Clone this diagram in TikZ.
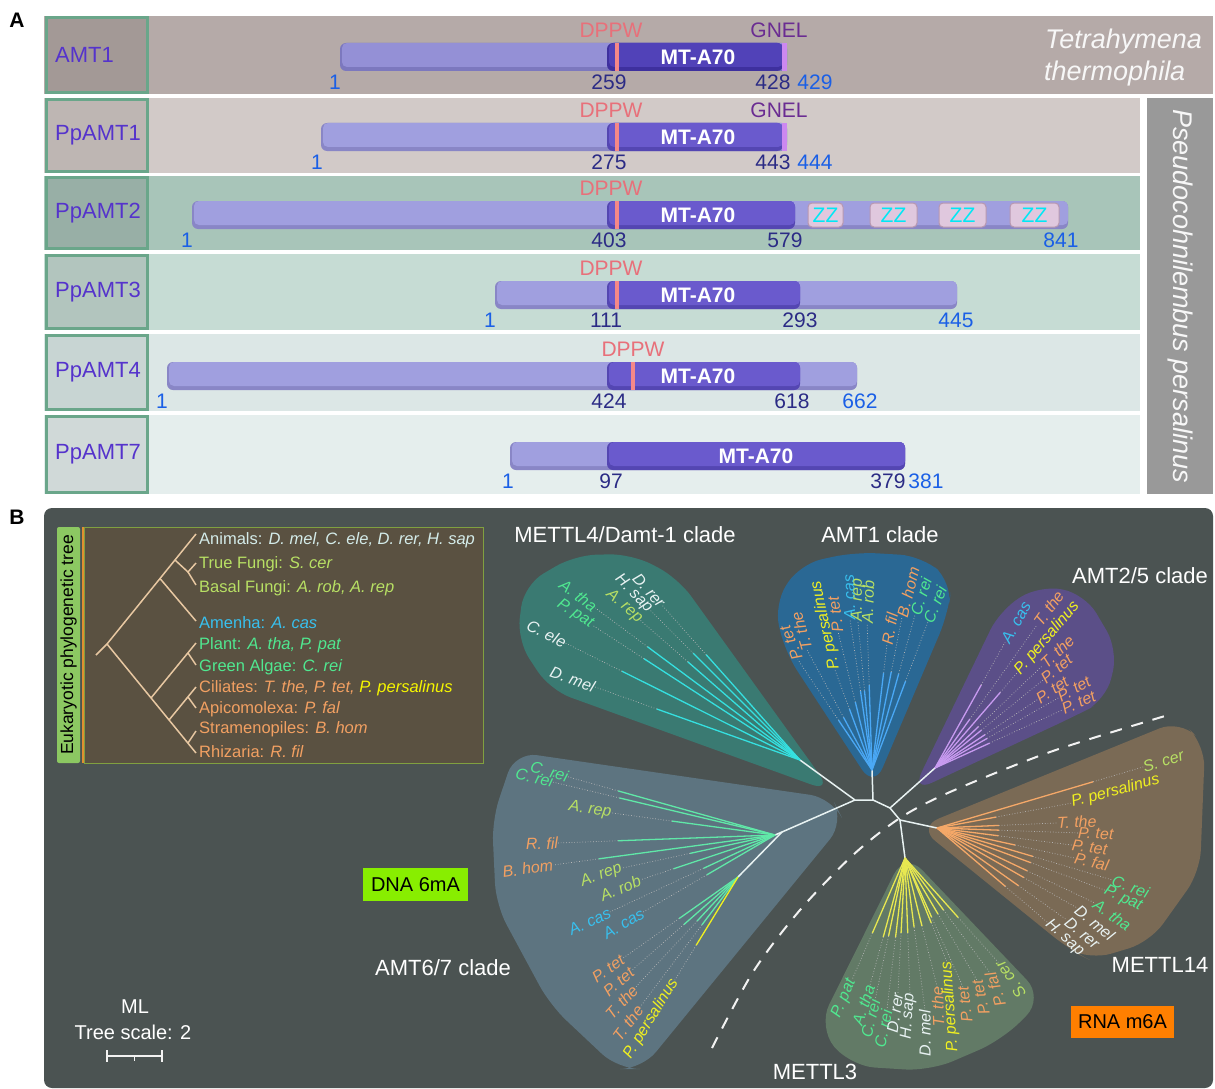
\documentclass[tikz,border=0pt]{standalone}
\usepackage{fontspec}
\setmainfont{Liberation Sans}
\usetikzlibrary{calc}
\definecolor{r1bg}{HTML}{B5AAA8}\definecolor{r1lb}{HTML}{A39996}
\definecolor{r2bg}{HTML}{D2CAC8}\definecolor{r2lb}{HTML}{BEB6B3}
\definecolor{r3bg}{HTML}{A8C5B9}\definecolor{r3lb}{HTML}{98AFA6}
\definecolor{r4bg}{HTML}{C6DCD4}\definecolor{r4lb}{HTML}{B2C5BE}
\definecolor{r5bg}{HTML}{DCE7E6}\definecolor{r5lb}{HTML}{C8D5D3}
\definecolor{r6bg}{HTML}{E5EEED}\definecolor{r6lb}{HTML}{D0D9D8}
\definecolor{lbbord}{HTML}{6AA68A}\definecolor{lblc}{HTML}{5533CC}
\definecolor{numdark}{HTML}{2B2B85}\definecolor{numblue}{HTML}{1A5FE6}
\definecolor{dppwc}{HTML}{E8707A}\definecolor{dppwl}{HTML}{F58888}
\definecolor{gnelc}{HTML}{6A2C92}\definecolor{gnelbar}{HTML}{CC88F0}
\definecolor{barA}{HTML}{9490D6}\definecolor{barAd}{HTML}{7C78BE}
\definecolor{barB}{HTML}{A09FDF}\definecolor{barBd}{HTML}{8986C6}
\definecolor{domA}{HTML}{5142B8}\definecolor{domAd}{HTML}{3E309E}
\definecolor{domB}{HTML}{6A5ACD}\definecolor{domBd}{HTML}{5446B2}
\definecolor{zzfill}{HTML}{E0C8DE}\definecolor{zzbord}{HTML}{B898B0}
\definecolor{zztext}{HTML}{00E8F5}\definecolor{grayband}{HTML}{999999}
\definecolor{bbg}{HTML}{4B5352}\definecolor{insetbg}{HTML}{5A5141}
\definecolor{insetbd}{HTML}{80A040}\definecolor{tabg}{HTML}{8CC862}
\definecolor{tabline}{HTML}{E09030}\definecolor{itree}{HTML}{E8C8A2}
\definecolor{txanim}{HTML}{D4ECEA}\definecolor{txfung}{HTML}{B8E064}
\definecolor{txamoe}{HTML}{38C0EE}\definecolor{txplant}{HTML}{50E890}
\definecolor{txcil}{HTML}{F2A062}\definecolor{txyel}{HTML}{F5F500}
\definecolor{cm4}{HTML}{3A7A72}\definecolor{ca1}{HTML}{2A6894}
\definecolor{ca2}{HTML}{5B4F88}\definecolor{cm14}{HTML}{7A6A55}
\definecolor{cm3}{HTML}{627A66}\definecolor{ca6}{HTML}{5D7480}
\definecolor{lm4}{HTML}{35E0E0}\definecolor{la1}{HTML}{4AA8F5}
\definecolor{la2}{HTML}{C89AF0}\definecolor{lm14}{HTML}{F5A868}
\definecolor{lm3}{HTML}{E8E850}\definecolor{la6}{HTML}{60E8A8}
\definecolor{lwhite}{HTML}{E8F2F2}\definecolor{dna}{HTML}{88EE00}
\definecolor{rna}{HTML}{FF7F00}\definecolor{ylw}{HTML}{F0F020}
\newcommand\fs[1]{\fontsize{#1}{#1}\selectfont}
\tikzset{
 rowlbl/.style={font=\fs{22}, text=lblc, inner sep=0, anchor=west},
 numd/.style={font=\fs{21}, text=numdark, inner sep=0},
 numb/.style={font=\fs{21}, text=numblue, inner sep=0},
 dppw/.style={font=\fs{21}, text=dppwc, inner sep=0},
 gnel/.style={font=\fs{21}, text=gnelc, inner sep=0},
 mta/.style={font=\bfseries\fs{21}, text=white, inner sep=0},
 zz/.style={font=\fs{21}, text=zztext, fill=zzfill, draw=zzbord, line width=1pt, rounded corners=4pt, minimum height=24, inner sep=0},
 itx/.style={font=\fs{16.5}, inner sep=0, anchor=west},
 clade/.style={font=\fs{22}, text=white, inner sep=0},
 leaflbl/.style={font=\itshape\fs{16}, inner sep=0},
 branch/.style={line width=1.3pt},
 leafdot/.style={dotted, line width=0.7pt, color=gray!55},
 mainbr/.style={line width=1.5pt, color=lwhite},
 itreeln/.style={line width=1.5pt, color=itree},
}
\newcommand\protrow[7]{%
 \fill[#4] (44,#1) rectangle (#3,#2);
 \draw[lbbord, line width=2.5pt, fill=#5] (46.5,#1+1.5) rectangle (147.5,#2-1.5);
 \node[rowlbl] (#6) at (55,{(#1+#2)/2}) {#7};}
\newcommand\protbar[4]{%
 \fill[#4d, rounded corners=6pt] (#1,#3-14) rectangle (#2,#3+14);
 \fill[#4, rounded corners=5pt] (#1+2,#3-14) rectangle (#2,#3+10);}
% [text angle] {ray angle}{solid r}{label r}{line colour}{text colour}{e/w}{text}
\newcommand\cladeleaf[8][]{%
 \draw[branch,#5] (0,0) -- ({-(#2)}:#3);
 \draw[leafdot] ({-(#2)}:#3) -- ({-(#2)}:#4);
 \def\tmparg{#1}%
 \ifx\tmparg\empty\pgfmathsetmacro\lrot{#2}\else\pgfmathsetmacro\lrot{#1}\fi
 \if e#7%
  \pgfmathsetmacro\lrot{\lrot+180}%
  \node[leaflbl,text=#6,rotate=\lrot,anchor=east] at ({-(#2)}:#4) {#8};%
 \else
  \node[leaflbl,text=#6,rotate=\lrot,anchor=west] at ({-(#2)}:#4) {#8};%
 \fi}
\begin{document}
\begin{tikzpicture}[x=1pt,y=-1pt]
\useasboundingbox (0,0) rectangle (1215,1089);
\fill[white] (0,0) rectangle (1215,1089);
% ================= Panel A
\node[font=\bfseries\fs{21}, inner sep=0] (labA) at (17,20) {A};
\protrow{16}{94}{1213}{r1bg}{r1lb}{amt1}{AMT1}
\protrow{98}{173}{1140}{r2bg}{r2lb}{ppamt1}{PpAMT1}
\protrow{176}{250}{1140}{r3bg}{r3lb}{ppamt2}{PpAMT2}
\protrow{254}{330}{1140}{r4bg}{r4lb}{ppamt3}{PpAMT3}
\protrow{334}{411}{1140}{r5bg}{r5lb}{ppamt4}{PpAMT4}
\protrow{415}{494}{1140}{r6bg}{r6lb}{ppamt7}{PpAMT7}
\fill[grayband] (1147,98) rectangle (1213,494);
\node[font=\itshape\fs{27}, text=white!94!gray, rotate=-90, inner sep=0] (pper) at (1180,296) {Pseudocohnilembus persalinus};
\node[font=\itshape\fs{27}, text=white!94!gray, inner sep=0, anchor=west] (tth1) at (1045,42) {Tetrahymena};
\node[font=\itshape\fs{27}, text=white!94!gray, inner sep=0, anchor=west] (tth2) at (1044,74) {thermophila};
% row 1
\protbar{340}{787}{57}{barA}
\protbar{607}{783}{57}{domA}
\fill[gnelbar] (782,43) rectangle (787,71);
\fill[dppwl] (615,43) rectangle (619,71);
\node[mta] (d1) at (698,57) {MT-A70};
\node[dppw] (p1) at (611,30) {DPPW};
\node[gnel] (g1) at (779,30) {GNEL};
\node[numb] (a1s) at (335,82) {1};
\node[numd] (a1a) at (609,82) {259};
\node[numd] (a1b) at (773,82) {428};
\node[numb] (a1e) at (815,82) {429};
% row 2
\protbar{321}{787}{137}{barB}
\protbar{607}{783}{137}{domB}
\fill[gnelbar] (782,123) rectangle (787,151);
\fill[dppwl] (615,123) rectangle (619,151);
\node[mta] (d2) at (698,137) {MT-A70};
\node[dppw] (p2) at (611,110) {DPPW};
\node[gnel] (g2) at (779,110) {GNEL};
\node[numb] (b1s) at (317,162) {1};
\node[numd] (b1a) at (609,162) {275};
\node[numd] (b1b) at (773,162) {443};
\node[numb] (b1e) at (815,162) {444};
% row 3
\protbar{192}{1068}{215}{barB}
\protbar{607}{795}{215}{domB}
\fill[dppwl] (615,201) rectangle (619,229);
\node[mta] (d3) at (698,215) {MT-A70};
\node[dppw] (p3) at (611,188) {DPPW};
\node[zz, minimum width=35] (z1) at (825.5,215) {ZZ};
\node[zz, minimum width=47] (z2) at (893.5,215) {ZZ};
\node[zz, minimum width=47] (z3) at (962.5,215) {ZZ};
\node[zz, minimum width=49] (z4) at (1034.5,215) {ZZ};
\node[numb] (b2s) at (187,240) {1};
\node[numd] (b2a) at (609,240) {403};
\node[numd] (b2b) at (785,240) {579};
\node[numb] (b2e) at (1061,240) {841};
% row 4
\protbar{495}{957}{295}{barB}
\protbar{607}{800}{295}{domB}
\fill[dppwl] (615,281) rectangle (619,309);
\node[mta] (d4) at (698,295) {MT-A70};
\node[dppw] (p4) at (611,268) {DPPW};
\node[numb] (b3s) at (490,320) {1};
\node[numd] (b3a) at (606,320) {111};
\node[numd] (b3b) at (800,320) {293};
\node[numb] (b3e) at (956,320) {445};
% row 5
\protbar{167}{857}{376}{barB}
\protbar{607}{800}{376}{domB}
\fill[dppwl] (631,362) rectangle (635,390);
\node[mta] (d5) at (698,376) {MT-A70};
\node[dppw] (p5) at (633,349) {DPPW};
\node[numb] (b4s) at (162,401) {1};
\node[numd] (b4a) at (609,401) {424};
\node[numd] (b4b) at (792,401) {618};
\node[numb] (b4e) at (860,401) {662};
% row 6
\protbar{510}{905}{456}{barB}
\protbar{607}{905}{456}{domB}
\node[mta] (d6) at (756,456) {MT-A70};
\node[numb] (b5s) at (508,481) {1};
\node[numd] (b5a) at (611,481) {97};
\node[numd] (b5b) at (888,481) {379};
\node[numb] (b5e) at (926,481) {381};
% ================= Panel B
\node[font=\bfseries\fs{21}, inner sep=0] (labB) at (17,517) {B};
\fill[bbg, rounded corners=8pt] (44,508) rectangle (1213,1088);
% inset
\fill[insetbg] (84,527) rectangle (483,763);
\draw[insetbd, line width=1pt] (84,527) rectangle (483,763);
\fill[tabg, rounded corners=2pt] (57,527) rectangle (80,763);
\node[font=\fs{17.5}, rotate=90, inner sep=0] (tabtxt) at (68.5,645) {Eukaryotic phylogenetic tree};
\draw[tabline, line width=2pt] (83,527) -- (83,763);
\coordinate (ir0) at (96,655); \coordinate (ir) at (107,644);
\coordinate (iAn) at (196,534); \coordinate (iN2) at (160,578.5);
\coordinate (iN3) at (175,560); \coordinate (iF) at (188,572);
\coordinate (iTF) at (196,563); \coordinate (iBF) at (196,585);
\coordinate (iAm) at (196,621);
\coordinate (iRh) at (196,753); \coordinate (iB1) at (151,698);
\coordinate (iPl) at (196,643); \coordinate (iP2) at (188,653); \coordinate (iGA) at (196,665);
\coordinate (iB2) at (169,720); \coordinate (iCi) at (196,687); \coordinate (iC2) at (188,697);
\coordinate (iAp) at (196,708); \coordinate (iB3) at (188,743); \coordinate (iSt) at (196,731);
\draw[itreeln] (ir0) -- (ir) -- (iAn);
\draw[itreeln] (iN2) -- (iAm);
\draw[itreeln] (iN3) -- (iF) -- (iTF);
\draw[itreeln] (iF) -- (iBF);
\draw[itreeln] (ir) -- (iRh);
\draw[itreeln] (iB1) -- (iPl);
\draw[itreeln] (iP2) -- (iGA);
\draw[itreeln] (iB2) -- (iCi);
\draw[itreeln] (iC2) -- (iAp);
\draw[itreeln] (iB3) -- (iSt);
\node[itx, text=txanim] (tAn) at (199,540) {Animals: \textit{D. mel, C. ele, D. rer, H. sap}};
\node[itx, text=txfung] (tTF) at (199,564) {True Fungi: \textit{S. cer}};
\node[itx, text=txfung] (tBF) at (199,588) {Basal Fungi: \textit{A. rob, A. rep}};
\node[itx, text=txamoe] (tAm) at (199,623) {Amenha: \textit{A. cas}};
\node[itx, text=txplant] (tPl) at (199,645) {Plant: \textit{A. tha, P. pat}};
\node[itx, text=txplant] (tGA) at (199,667) {Green Algae: \textit{C. rei}};
\node[itx, text=txcil] (tCi) at (199,688) {Ciliates: \textit{T. the, P. tet, }\textcolor{txyel}{\textit{P. persalinus}}};
\node[itx, text=txcil] (tAp) at (199,709) {Apicomolexa: \textit{P. fal}};
\node[itx, text=txcil] (tSt) at (199,729) {Stramenopiles: \textit{B. hom}};
\node[itx, text=txcil] (tRh) at (199,752) {Rhizaria: \textit{R. fil}};
% clade backgrounds
\fill[cm4, rounded corners=22pt] (832,792) -- (550,690) -- (517,640) -- (524,585) -- (575,555) -- (632,554) -- (678,578) -- cycle;
\fill[ca1, rounded corners=22pt] (874,788) -- (785,652) -- (774,604) -- (800,564) -- (855,552) -- (922,556) -- (952,582) -- (948,614) -- cycle;
\fill[ca2, rounded corners=22pt] (912,792) -- (1000,610) -- (1040,585) -- (1085,594) -- (1118,650) -- (1106,700) -- (1075,716) -- cycle;
\fill[cm14, rounded corners=22pt] (918,827) -- (1180,720) -- (1205,745) -- (1200,872) -- (1150,942) -- (1090,960) -- (1070,950) -- cycle;
\fill[cm3, rounded corners=25pt] (905,852) -- (818,1027) -- (850,1066) -- (930,1071) -- (1002,1040) -- (1044,998) -- cycle;
\fill[ca6, rounded corners=22pt] (515,752) -- (832,798) -- (844,822) -- (642,1069) -- (618,1069) -- (550,1005) -- (496,905) -- (492,820) -- cycle;
% dashed separator
\draw[white!90!gray, line width=2pt, dash pattern=on 12pt off 10pt] plot[smooth] coordinates {(712,1048) (753,972) (800,910) (853,855) (900,818) (950,792) (1050,752) (1165,716)};
% main tree backbone
\coordinate (rM4) at (800,760); \coordinate (rA1) at (872,770);
\coordinate (rA2) at (935,768); \coordinate (rM14) at (937,828);
\coordinate (rM3) at (905,858); \coordinate (rU) at (775,835);
\coordinate (rL) at (738,877);
\coordinate (n1) at (855,800); \coordinate (n2) at (873,800);
\coordinate (n3) at (890,808); \coordinate (n4) at (900,820);
\coordinate (n5) at (782,832);
\draw[mainbr] (rM4) -- (n1) -- (n2) -- (rA1);
\draw[mainbr] (n2) -- (n3) -- (rA2);
\draw[mainbr] (n3) -- (n4) -- (rM14);
\draw[mainbr] (n4) -- (rM3);
\draw[mainbr] (n1) -- (n5) -- (rU);
\draw[mainbr] (n5) -- (rL);
% METTL4/Damt-1 clade
\begin{scope}[shift={(rM4)}]
\cladeleaf{160.4}{152}{218}{lm4}{lwhite}{e}{D. mel}
\cladeleaf{153.5}{199}{262}{lm4}{lwhite}{e}{C. ele}
\cladeleaf{147}{186}{248}{lm4}{txplant}{e}{P. pat}
\cladeleaf{143.4}{190}{255}{lm4}{txplant}{e}{A. tha}
\cladeleaf{138.8}{149}{212}{lm4}{txfung}{e}{A. rep}
\cladeleaf{135}{151}{212}{lm4}{lwhite}{e}{H. sap}
\cladeleaf{131.7}{141}{207}{lm4}{lwhite}{e}{D. rer}
\end{scope}
% AMT1 clade
\begin{scope}[shift={(rA1)}]
\cladeleaf[112]{123.9}{60}{133}{la1}{txcil}{w}{P. tet}
\cladeleaf[107]{118.4}{60}{136}{la1}{txcil}{w}{T. the}
\cladeleaf[102]{110.3}{65}{107}{la1}{ylw}{w}{P. persalinus}
\cladeleaf[98]{103.8}{70}{142}{la1}{txcil}{w}{P. tet}
\cladeleaf[92]{98.3}{80}{152}{la1}{txamoe}{w}{A. cas}
\cladeleaf[90]{95.4}{80}{149}{la1}{txfung}{w}{A. rep}
\cladeleaf[88]{91.9}{85}{147}{la1}{txfung}{w}{A. rob}
\cladeleaf[80]{83.2}{98}{126}{la1}{txcil}{w}{R. fil}
\cladeleaf[76]{78.9}{100}{156}{la1}{txcil}{w}{B. hom}
\cladeleaf[72]{74.5}{100}{161}{la1}{txplant}{w}{C. rei}
\cladeleaf[68]{69.3}{95}{158}{la1}{txplant}{w}{C. rei}
\end{scope}
% AMT2/5 clade
\begin{scope}[shift={(rA2)}]
\cladeleaf{60.9}{95}{144}{la2}{txamoe}{w}{A. cas}
\cladeleaf{54.5}{60}{176}{la2}{txcil}{w}{T. the}
\cladeleaf{49.2}{100}{126}{la2}{ylw}{w}{P. persalinus}
\cladeleaf{43.6}{60}{149}{la2}{txcil}{w}{T. the}
\cladeleaf{39.2}{60}{139}{la2}{txcil}{w}{P. tet}
\cladeleaf{33.7}{60}{123}{la2}{txcil}{w}{P. tet}
\cladeleaf{29.6}{60}{142}{la2}{txcil}{w}{P. tet}
\cladeleaf{24.5}{60}{140}{la2}{txcil}{w}{P. tet}
\end{scope}
% METTL14 clade
\begin{scope}[shift={(rM14)}]
\cladeleaf{16.5}{163}{215}{lm14}{txfung}{w}{S. cer}
\cladeleaf[15]{10.5}{60}{137}{lm14}{ylw}{w}{P. persalinus}
\cladeleaf{2.4}{62}{120}{lm14}{txcil}{w}{T. the}
\cladeleaf{358}{62}{141}{lm14}{txcil}{w}{P. tet}
\cladeleaf{352.8}{62}{136}{lm14}{txcil}{w}{P. tet}
\cladeleaf{347.7}{80}{141}{lm14}{txcil}{w}{P. fal}
\cladeleaf[340]{343.5}{100}{183}{lm14}{txplant}{w}{C. rei}
\cladeleaf[335]{339.7}{100}{179}{lm14}{txplant}{w}{P. pat}
\cladeleaf[325]{334.6}{100}{175}{lm14}{txplant}{w}{A. tha}
\cladeleaf[320]{330.3}{100}{161}{lm14}{lwhite}{w}{D. mel}
\cladeleaf[320]{324.7}{100}{159}{lm14}{lwhite}{w}{D. rer}
\cladeleaf[318]{319.5}{90}{145}{lm14}{lwhite}{w}{H. sap}
\end{scope}
% METTL3 clade
\begin{scope}[shift={(rM3)}]
\cladeleaf[246.5]{246.5}{82}{133}{lm3}{txplant}{e}{P. pat}
\cladeleaf[252]{254.6}{82}{132}{lm3}{txplant}{e}{A. tha}
\cladeleaf[256]{258.1}{80}{145}{lm3}{txplant}{e}{C. rei}
\cladeleaf[259]{263.2}{80}{153}{lm3}{txplant}{e}{C. rei}
\cladeleaf[262]{267}{75}{135}{lm3}{lwhite}{e}{D. rer}
\cladeleaf[266]{272.1}{75}{135}{lm3}{lwhite}{e}{H. sap}
\cladeleaf[270]{277.5}{70}{153}{lm3}{lwhite}{e}{D. mel}
\cladeleaf[272]{284}{70}{133}{lm3}{txcil}{e}{T. the}
\cladeleaf[274]{292}{70}{112}{lm3}{ylw}{e}{P. persalinus}
\cladeleaf[277]{294.2}{65}{141}{lm3}{txcil}{e}{P. tet}
\cladeleaf[282]{300.5}{65}{142}{lm3}{txcil}{e}{P. tet}
\cladeleaf[288]{306.5}{65}{143}{lm3}{txcil}{e}{P. fal}
\cladeleaf[305]{311.8}{80}{140}{lm3}{txfung}{e}{S. cer}
\end{scope}
% AMT6/7 clade
\begin{scope}[shift={(rU)}]
\cladeleaf{164.3}{163}{215}{la6}{txplant}{e}{C. rei}
\cladeleaf{166.6}{160}{228}{la6}{txplant}{e}{C. rei}
\cladeleaf{172.3}{104}{165}{la6}{txfung}{e}{A. rep}
\cladeleaf{182.1}{157}{217}{la6}{txcil}{e}{R. fil}
\cladeleaf{187.7}{178}{224}{la6}{txcil}{e}{B. hom}
\cladeleaf[200]{192.2}{87}{157}{la6}{txfung}{e}{A. rep}
\cladeleaf[203]{198.4}{107}{142}{la6}{txfung}{e}{A. rob}
\cladeleaf{205}{79}{182}{la6}{txamoe}{e}{A. cas}
\cladeleaf{210.3}{79}{153}{la6}{txamoe}{e}{A. cas}
\end{scope}
\begin{scope}[shift={(rL)}]
\cladeleaf{215.2}{72}{141}{la6}{txcil}{e}{P. tet}
\cladeleaf{221.3}{72}{141}{la6}{txcil}{e}{P. tet}
\cladeleaf{227.1}{60}{151}{la6}{txcil}{e}{T. the}
\cladeleaf{233}{60}{163}{la6}{txcil}{e}{T. the}
\cladeleaf{238.5}{80}{121}{ylw}{ylw}{e}{P. persalinus}
\end{scope}
% clade labels
\node[clade] (cM4) at (625,535) {METTL4/Damt-1 clade};
\node[clade] (cA1) at (880,535) {AMT1 clade};
\node[clade] (cA2) at (1140,576) {AMT2/5 clade};
\node[clade] (cA6) at (443,968) {AMT6/7 clade};
\node[clade] (cM3) at (815,1072) {METTL3};
\node[clade] (cM14) at (1160,965) {METTL14};
\node[fill=dna, minimum width=105, minimum height=33, inner sep=0, font=\fs{20}] (dnab) at (415.5,884.5) {DNA 6mA};
\node[fill=rna, minimum width=103, minimum height=32, inner sep=0, font=\fs{20}] (rnab) at (1122.5,1022) {RNA m6A};
% scale
\node[font=\fs{20}, text=white, inner sep=0] (ml) at (135,1007) {ML};
\node[font=\fs{20}, text=white, inner sep=0] (tsc) at (133,1032) {Tree scale: 2};
\coordinate (sb1) at (107,1056); \coordinate (sb2) at (162,1056);
\draw[white!90!gray, line width=1.5pt] (sb1) -- (sb2);
\draw[white!90!gray, line width=1.2pt] ($(sb1)+(0,-6)$) -- ($(sb1)+(0,6)$);
\draw[white!90!gray, line width=1.2pt] ($(sb2)+(0,-6)$) -- ($(sb2)+(0,6)$);
\draw[white!90!gray, line width=1pt] (134.5,1056) -- (134.5,1061);
\end{tikzpicture}
\end{document}
